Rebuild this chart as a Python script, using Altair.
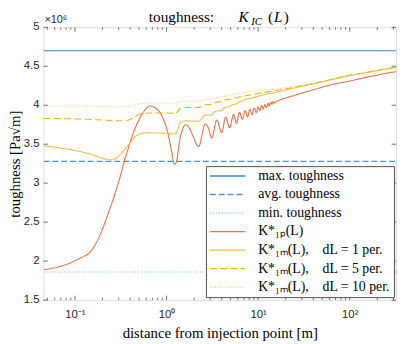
import altair as alt
import pandas as pd

# ---------------- data (y in units of 1e6 Pa*sqrt(m)) ----------------
x_lo, x_hi = 0.0453, 320.0
max_t, avg_t, min_t = 4.70, 3.28, 1.86

k1p_x = [0.0453, 0.0525, 0.0673, 0.0862, 0.1104, 0.1523, 0.1905, 0.2321, 0.2973, 0.3624,
         0.4525, 0.566, 0.6565, 0.762, 0.883, 1.025, 1.132, 1.219, 1.297, 1.38,
         1.486, 1.613, 1.767, 1.95, 2.15, 2.26, 2.44, 2.63, 2.83, 3.12,
         3.53, 4.00, 4.42, 4.88, 5.39, 5.80, 6.25, 6.73, 7.20, 7.66,
         8.12, 8.58, 9.05, 9.52, 9.98, 10.45, 10.92, 11.38, 11.85, 12.32,
         12.78, 13.25, 13.72, 14.18, 14.65, 15.12, 16.0, 18.0, 21.0, 25.6,
         32.0, 42.0, 55.0, 70.0, 100.0, 140.0, 190.0, 250.0, 320.0]
k1p_y = [1.89, 1.90, 1.93, 1.97, 2.03, 2.14, 2.35, 2.62, 3.00, 3.36,
         3.70, 3.92, 3.99, 3.96, 3.87, 3.66, 3.42, 3.24, 3.30, 3.53,
         3.68, 3.75, 3.71, 3.60, 3.49, 3.47, 3.62, 3.76, 3.72, 3.58,
         3.81, 3.65, 3.85, 3.71, 3.88, 3.77, 3.91, 3.82, 3.93, 3.85,
         3.95, 3.88, 3.965, 3.905, 3.98, 3.93, 3.995, 3.95, 4.01, 3.97,
         4.025, 3.99, 4.04, 4.01, 4.05, 4.03, 4.05, 4.075, 4.10, 4.13,
         4.165, 4.205, 4.245, 4.275, 4.31, 4.35, 4.38, 4.41, 4.43]

k1m1_x = [0.0453, 0.07, 0.1, 0.15, 0.2, 0.244, 0.28, 0.33, 0.40, 0.46,
          0.52, 0.60, 1.0, 1.22, 1.30, 1.38, 1.45, 1.6, 2.2, 2.3,
          2.45, 2.6, 2.8, 3.12, 3.3, 3.5, 4.0, 4.2, 4.4, 4.9,
          5.1, 5.4, 5.8, 6.0, 6.3, 6.73, 7.0, 7.3, 8.0, 9.0,
          10.0, 12.0, 15.6, 20.0, 25.6, 32.0, 42.0, 55.0, 70.0, 100.0,
          140.0, 190.0, 250.0, 320.0]
k1m1_y = [3.48, 3.45, 3.42, 3.37, 3.32, 3.30, 3.32, 3.40, 3.52, 3.60,
          3.635, 3.645, 3.64, 3.63, 3.66, 3.76, 3.79, 3.80, 3.795, 3.80,
          3.84, 3.87, 3.875, 3.875, 3.91, 3.925, 3.93, 3.96, 3.975, 3.98,
          4.00, 4.01, 4.015, 4.035, 4.045, 4.05, 4.065, 4.075, 4.085, 4.10,
          4.115, 4.14, 4.165, 4.195, 4.225, 4.25, 4.28, 4.31, 4.34, 4.38,
          4.41, 4.44, 4.465, 4.485]

k1m5_x = [0.0453, 0.1, 0.2, 0.3, 0.36, 0.42, 0.48, 0.55, 0.65, 1.0,
          1.22, 1.32, 1.42, 1.55, 2.25, 2.45, 2.65, 3.1, 3.35, 3.55,
          4.0, 4.2, 4.45, 4.9, 5.4, 5.8, 6.3, 7.0, 8.0, 10.0,
          12.0, 15.6, 20.0, 25.6, 32.0, 42.0, 55.0, 70.0, 100.0, 140.0,
          190.0, 250.0, 320.0]
k1m5_y = [3.83, 3.825, 3.81, 3.80, 3.80, 3.83, 3.87, 3.895, 3.90, 3.90,
          3.895, 3.92, 3.96, 3.97, 3.97, 3.99, 4.005, 4.01, 4.03, 4.04,
          4.045, 4.06, 4.07, 4.075, 4.09, 4.095, 4.11, 4.12, 4.13, 4.15,
          4.165, 4.19, 4.21, 4.235, 4.255, 4.285, 4.315, 4.345, 4.383, 4.413,
          4.442, 4.467, 4.487]

k1m10_x = [0.0453, 0.1, 0.2, 0.3, 0.38, 0.46, 0.55, 1.22, 1.32, 1.45,
           2.25, 2.45, 2.65, 3.1, 3.4, 3.6, 4.0, 4.45, 4.9, 5.4,
           6.3, 7.0, 8.0, 10.0, 12.0, 15.6, 20.0, 25.6, 32.0, 42.0,
           55.0, 70.0, 100.0, 140.0, 190.0, 250.0, 320.0]
k1m10_y = [3.99, 3.99, 3.985, 3.98, 3.985, 4.01, 4.025, 4.025, 4.04, 4.05,
           4.05, 4.065, 4.075, 4.08, 4.095, 4.10, 4.105, 4.12, 4.125, 4.135,
           4.15, 4.16, 4.17, 4.18, 4.195, 4.21, 4.225, 4.245, 4.262, 4.29,
           4.318, 4.347, 4.385, 4.415, 4.444, 4.469, 4.489]

SP = "\u2002\u2002"
series_names = ["max. toughness", "avg. toughness", "min. toughness",
                "K*₁ₚ(L)",
                "K*₁ₘ(L)," + SP + "dL = 1 per.",
                "K*₁ₘ(L)," + SP + "dL = 5 per.",
                "K*₁ₘ(L)," + SP + "dL = 10 per."]
series_colors = ["#2f86cf", "#4a93d3", "#62bdec", "#e4744a", "#f1bd45", "#EDB120", "#f4cc6e"]
series_dashes = [[1, 0], [6, 3], [1, 2], [1, 0], [1, 0], [7, 3.5], [1, 1.6]]

y_tick_values = [1.5, 2, 2.5, 3, 3.5, 4, 4.5, 5]
y_tick_labels = ["1.5", "2", "2.5", "3", "3.5", "4", "4.5", "5"]
x_tick_values = [0.1, 1, 10, 100]
x_tick_labels = ["10⁻¹", "10⁰", "10¹", "10²"]
x_minor_values = [0.05, 0.06, 0.07, 0.08, 0.09, 0.2, 0.3, 0.4, 0.5, 0.6, 0.7, 0.8, 0.9,
                  2, 3, 4, 5, 6, 7, 8, 9, 20, 30, 40, 50, 60, 70, 80, 90, 200, 300]

# ---------------- build table ----------------
rows = []
for name, xs, ys in [
    (series_names[0], [x_lo, x_hi], [max_t, max_t]),
    (series_names[1], [x_lo, x_hi], [avg_t, avg_t]),
    (series_names[2], [x_lo, x_hi], [min_t, min_t]),
    (series_names[3], k1p_x, k1p_y),
    (series_names[4], k1m1_x, k1m1_y),
    (series_names[5], k1m5_x, k1m5_y),
    (series_names[6], k1m10_x, k1m10_y),
]:
    for i, (a, b) in enumerate(zip(xs, ys)):
        rows.append({"series": name, "x": a, "y": b, "i": i})
df = pd.DataFrame(rows)

W, H = 358, 277
SERIF = "Liberation Serif"
SANS = "Liberation Sans"
FRAME = "#4d4d4d"

x_scale = alt.Scale(type="log", domain=[x_lo, x_hi], nice=False)
y_scale = alt.Scale(domain=[1.5, 5], nice=False, zero=False)

def lookup_expr(values, labels):
    return " : ".join(
        f"abs(datum.value - {v}) < 1e-9 ? '{l}'" for v, l in zip(values, labels)
    ) + " : ''"

legend = alt.Legend(
    title=None, orient="none", legendX=165, legendY=141,
    fillColor="white", strokeColor=FRAME,
    padding=3, symbolType="M-3,0H3", symbolSize=144, symbolStrokeWidth=1.3,
    symbolOffset=12, labelOffset=24,
    labelFont=SERIF, labelFontSize=14, labelColor="black",
    labelLimit=0, rowPadding=4.8,
)

lines = alt.Chart(df).mark_line(strokeWidth=1.1, clip=True, interpolate="monotone").encode(
    x=alt.X("x:Q", scale=x_scale,
            axis=alt.Axis(values=x_tick_values, labelExpr=lookup_expr(x_tick_values, x_tick_labels),
                          ticks=False, tickSize=0,
                          domain=False, grid=False, labelFont=SANS, labelFontSize=11.5,
                          labelColor="#262626", labelPadding=9, labelOverlap=False,
                          title="distance from injection point [m]", titleFont=SERIF,
                          titleFontSize=15, titleFontWeight="normal", titleColor="black",
                          titlePadding=5)),
    y=alt.Y("y:Q", scale=y_scale,
            axis=alt.Axis(values=y_tick_values, labels=False, ticks=False, tickSize=0,
                          domain=False, grid=False,
                          title="toughness [Pa√m]", titleFont=SERIF, titleFontSize=15,
                          titleFontWeight="normal", titleColor="black", titlePadding=21)),
    color=alt.Color("series:N", scale=alt.Scale(domain=series_names, range=series_colors),
                    sort=series_names, legend=legend),
    strokeDash=alt.StrokeDash("series:N", scale=alt.Scale(domain=series_names, range=series_dashes),
                              sort=series_names, legend=legend),
    order="i:Q",
)

# inward tick marks (MATLAB style, box on); same field names so axes merge
xt_major = pd.DataFrame({"x": x_tick_values})
xt_minor = pd.DataFrame({"x": x_minor_values})
yt = pd.DataFrame({"y": y_tick_values, "lab": y_tick_labels})

def xticks(data, length):
    b = alt.Chart(data).mark_rule(color=FRAME, strokeWidth=0.8).encode(
        x=alt.X("x:Q", scale=x_scale), y=alt.value(H), y2=alt.value(H - length))
    t = alt.Chart(data).mark_rule(color=FRAME, strokeWidth=0.8).encode(
        x=alt.X("x:Q", scale=x_scale), y=alt.value(0), y2=alt.value(length))
    return b + t

yl = alt.Chart(yt).mark_rule(color=FRAME, strokeWidth=0.8).encode(
    y=alt.Y("y:Q", scale=y_scale), x=alt.value(0), x2=alt.value(4.5))
yr = alt.Chart(yt).mark_rule(color=FRAME, strokeWidth=0.8).encode(
    y=alt.Y("y:Q", scale=y_scale), x=alt.value(W), x2=alt.value(W - 4.5))
ylabels = alt.Chart(yt).mark_text(
    font=SANS, fontSize=11.5, color="#262626", align="right", baseline="middle", dx=-4
).encode(y=alt.Y("y:Q", scale=y_scale), x=alt.value(0), text="lab:N")

# title pieces and exponent label
def txt(s, x, y, font, size, style="normal", color="black"):
    return alt.Chart(pd.DataFrame({"t": [s]})).mark_text(
        font=font, fontSize=size, fontStyle=style, align="left", baseline="alphabetic",
        color=color).encode(x=alt.value(x), y=alt.value(y), text="t:N")

title = (txt("toughness:", 107, -5, SERIF, 15.5)
         + txt("K", 198, -5, SERIF, 15.5, "italic")
         + txt("IC", 211, -2, SERIF, 11, "italic")
         + txt("(", 228, -5, SERIF, 15.5)
         + txt("L", 234, -5, SERIF, 15.5, "italic")
         + txt(")", 244, -5, SERIF, 15.5))
expo = txt("×10⁶", 1, -4, SANS, 11, color="#262626")

chart = alt.layer(
    lines, xticks(xt_major, 4.5), xticks(xt_minor, 2.5), yl, yr, ylabels, title, expo
).properties(
    width=W, height=H,
    padding={"left": 0, "top": 0, "right": 0, "bottom": 0},
).configure_view(stroke=FRAME, strokeWidth=1).configure(background="white")

chart.save("out.html", embed_options={"renderer": "svg", "actions": False})
